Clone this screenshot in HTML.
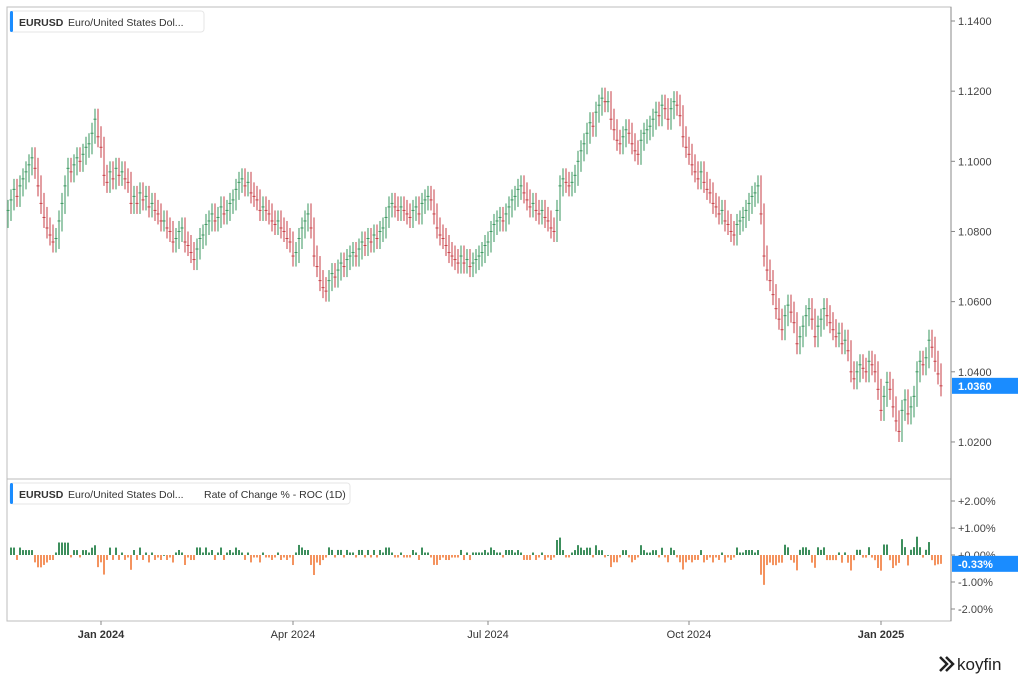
<!DOCTYPE html>
<html><head><meta charset="utf-8"><style>
body{margin:0;background:#fff;width:1024px;height:683px;overflow:hidden;font-family:"Liberation Sans",sans-serif}
svg text{font-family:"Liberation Sans",sans-serif}
</style></head><body>
<svg id="c" width="1024" height="683">
<rect x="7" y="7" width="944" height="614" fill="#fff" stroke="#bdbdbd"/>
<line x1="7" y1="479" x2="951" y2="479" stroke="#bbb"/>
<line x1="951" y1="7" x2="951" y2="621" stroke="#888"/>
<g id="bars"></g>
<g id="roc"></g>
<g id="axes"></g>
<g><rect x="10" y="11" width="194" height="21" rx="3" fill="#fff" stroke="#e6e6e6"/><rect x="10" y="11" width="3" height="21" rx="1.5" fill="#1a8cff"/><text x="19" y="26" font-size="10.5" fill="#333" font-weight="bold">EURUSD</text><text x="68" y="26" font-size="10.5" fill="#333">Euro/United States Dol...</text></g>
<g><rect x="10" y="483" width="340" height="21" rx="3" fill="#fff" stroke="#e6e6e6"/><rect x="10" y="483" width="3" height="21" rx="1.5" fill="#1a8cff"/><text x="19" y="498" font-size="10.5" fill="#333" font-weight="bold">EURUSD</text><text x="68" y="498" font-size="10.5" fill="#333">Euro/United States Dol...</text><text x="204" y="498" font-size="10.5" fill="#333">Rate of Change % - ROC (1D)</text></g>
<g><path d="M940 657 l7 7 l-7 7 M946 657 l7 7 l-7 7" stroke="#222" stroke-width="2.5" fill="none"/><text x="957" y="670" font-size="17" fill="#222">koyfin</text></g>
</svg>
<script>
const closes=[1.086,1.089,1.092,1.090,1.093,1.095,1.097,1.099,1.101,1.098,1.093,1.088,1.084,1.081,1.079,1.077,1.078,1.083,1.088,1.093,1.098,1.097,1.099,1.101,1.100,1.102,1.104,1.105,1.108,1.112,1.107,1.104,1.096,1.094,1.097,1.095,1.098,1.096,1.097,1.095,1.094,1.088,1.090,1.088,1.091,1.089,1.090,1.087,1.088,1.086,1.085,1.083,1.083,1.081,1.080,1.077,1.078,1.080,1.081,1.077,1.076,1.074,1.072,1.075,1.078,1.079,1.082,1.083,1.085,1.083,1.084,1.087,1.085,1.086,1.088,1.089,1.092,1.094,1.095,1.093,1.094,1.091,1.090,1.089,1.086,1.087,1.086,1.085,1.083,1.082,1.083,1.081,1.080,1.078,1.077,1.073,1.074,1.078,1.081,1.083,1.085,1.081,1.073,1.070,1.066,1.064,1.063,1.066,1.068,1.067,1.069,1.071,1.070,1.072,1.073,1.074,1.073,1.075,1.077,1.076,1.078,1.077,1.079,1.078,1.080,1.081,1.084,1.087,1.088,1.087,1.086,1.087,1.086,1.085,1.084,1.086,1.087,1.085,1.088,1.089,1.090,1.089,1.085,1.081,1.079,1.078,1.076,1.074,1.073,1.072,1.071,1.073,1.071,1.072,1.070,1.071,1.072,1.073,1.074,1.076,1.077,1.080,1.082,1.083,1.084,1.083,1.085,1.087,1.089,1.090,1.092,1.093,1.091,1.089,1.087,1.088,1.086,1.085,1.086,1.084,1.083,1.081,1.080,1.086,1.093,1.095,1.094,1.093,1.094,1.096,1.100,1.103,1.105,1.108,1.111,1.110,1.114,1.116,1.118,1.117,1.117,1.112,1.109,1.106,1.105,1.107,1.109,1.108,1.105,1.103,1.102,1.106,1.108,1.109,1.110,1.112,1.114,1.113,1.116,1.115,1.112,1.115,1.117,1.116,1.113,1.107,1.104,1.102,1.099,1.097,1.095,1.097,1.094,1.092,1.091,1.088,1.087,1.085,1.086,1.083,1.082,1.080,1.079,1.082,1.083,1.084,1.086,1.088,1.090,1.091,1.093,1.085,1.073,1.069,1.066,1.062,1.058,1.055,1.052,1.056,1.059,1.057,1.054,1.048,1.050,1.053,1.056,1.058,1.055,1.050,1.053,1.055,1.058,1.056,1.054,1.052,1.050,1.051,1.048,1.049,1.046,1.040,1.038,1.040,1.042,1.041,1.040,1.043,1.042,1.040,1.035,1.029,1.033,1.037,1.035,1.030,1.026,1.023,1.029,1.032,1.028,1.030,1.033,1.040,1.043,1.042,1.044,1.049,1.047,1.043,1.0394,1.036];
const priceTicks=[1.14,1.12,1.10,1.08,1.06,1.04,1.02];
const rocTicks=[2,1,0,-1,-2];
const xLabels=["Jan 2024","Apr 2024","Jul 2024","Oct 2024","Jan 2025"];
const xLabelBars=[31,95,160,227,291];
const NS="http://www.w3.org/2000/svg";
const py=p=>21+(1.14-p)*3508;
const ry=r=>555-r*27;
const bx=i=>8+i*3;
function mk(tag,attrs,parent){const e=document.createElementNS(NS,tag);for(const k in attrs)e.setAttribute(k,attrs[k]);parent.appendChild(e);return e;}
const gb=document.getElementById('bars'),gr=document.getElementById('roc'),ga=document.getElementById('axes');
for(let i=0;i<closes.length;i++){
  const c=closes[i],o=i?closes[i-1]:c-0.002;
  const up=c>=o,col=up?'#3f9a63':'#c9444b';
  const hi=Math.max(o,c)+0.003,lo=Math.min(o,c)-0.003;
  const x=bx(i);
  const l=mk('line',{x1:x,x2:x,y1:py(hi),y2:py(lo),stroke:col,'stroke-width':1.3,'stroke-opacity':0.8},gb);
  
  
  const t=mk('line',{x1:x-1.5,x2:x+1.5,y1:py(c),y2:py(c),stroke:col,'stroke-width':1},gb);
  
  
  if(i>0){
    const r=(c/o-1)*100;
    const y0=ry(0),y1=ry(r);
    const b=mk('rect',{x:x-1,width:2,y:Math.min(y0,y1),height:Math.max(0.8,Math.abs(y1-y0)),fill:r>=0?'#3d8f5d':'#f4935f'},gr);
    
    
  }
}
priceTicks.forEach(p=>{
  mk('line',{x1:951,x2:955,y1:py(p),y2:py(p),stroke:'#888'},ga);
  const t=mk('text',{x:958,y:py(p)+4,'font-size':11,fill:'#444'},ga);t.textContent=p.toFixed(4);
  
  
});
rocTicks.forEach(r=>{
  mk('line',{x1:951,x2:955,y1:ry(r),y2:ry(r),stroke:'#888'},ga);
  const t=mk('text',{x:958,y:ry(r)+4,'font-size':11,fill:'#444'},ga);t.textContent=(r>=0?'+':'')+r.toFixed(2)+'%';
  
  
});
xLabels.forEach((s,k)=>{
  const x=bx(xLabelBars[k]);
  mk('line',{x1:x,x2:x,y1:621,y2:625,stroke:'#888'},ga);
  const t=mk('text',{x:x,y:638,'font-size':11,fill:'#333','text-anchor':'middle','font-weight':s.startsWith('Jan')?'bold':'normal'},ga);t.textContent=s;
  
  
});
const last=closes[closes.length-1],prev=closes[closes.length-2];
const lb=mk('rect',{x:952,y:py(last)-8,width:66,height:16,fill:'#1a8cff'},ga);


const lt=mk('text',{x:958,y:py(last)+4,'font-size':11,fill:'#fff','font-weight':'bold'},ga);lt.textContent=last.toFixed(4);
const rv=(last/prev-1)*100;
const rb=mk('rect',{x:952,y:ry(rv)-8,width:66,height:16,fill:'#1a8cff'},ga);


const rt=mk('text',{x:958,y:ry(rv)+4,'font-size':11,fill:'#fff','font-weight':'bold'},ga);rt.textContent=rv.toFixed(2)+'%';
</script>
</body></html>
